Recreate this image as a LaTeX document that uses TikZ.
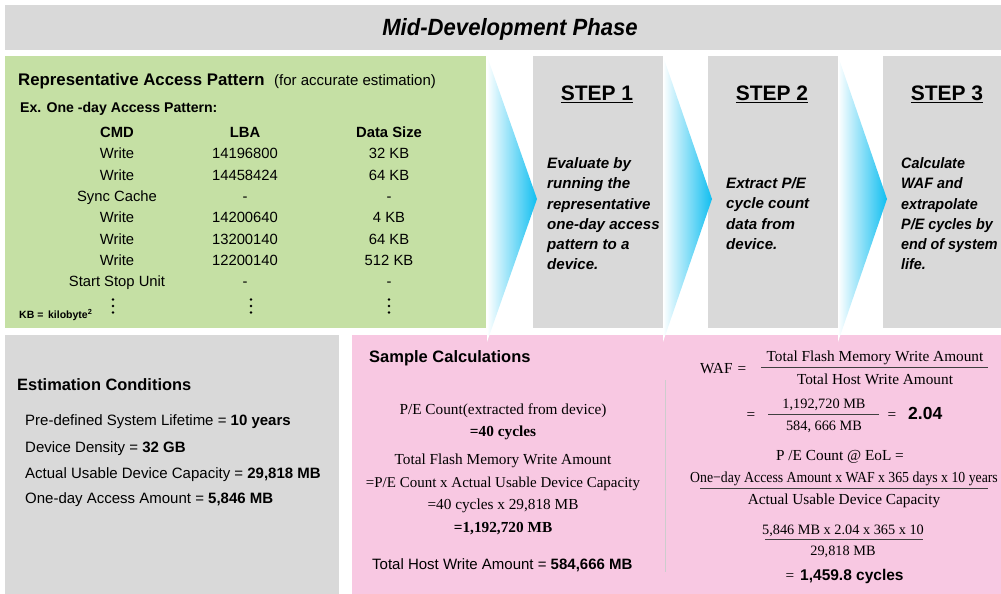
\documentclass[tikz,border=0pt]{standalone}
\usepackage{fontspec}
\setmainfont{Liberation Sans}
\newfontfamily\serf{Liberation Serif}
\definecolor{boxgrey}{HTML}{D9D9D9}
\definecolor{boxgreen}{RGB}{197,224,164}
\definecolor{boxpink}{RGB}{248,200,226}
\definecolor{arrowcyan}{RGB}{16,190,240}
\definecolor{divgrey}{RGB}{205,205,205}
\newcommand\fsz[1]{\fontsize{#1}{#1}\selectfont}
\newcommand\narrow[1]{\scalebox{0.95}[1]{#1}}
\begin{document}
\begin{tikzpicture}[x=1pt,y=-1pt,
  txt/.style={inner sep=0pt, anchor=mid, yshift=-3.2pt},
  ltxt/.style={inner sep=0pt, anchor=mid west, yshift=-3.2pt},
  headtxt/.style={inner sep=0pt, anchor=mid west, yshift=-4pt},
  chev/.style={left color=white, right color=arrowcyan, draw=none},
  fracline/.style={draw=black!75, line width=0.8pt},
  tabtxt/.style={txt, font=\fsz{14.8}},
  tabhead/.style={txt, font=\bfseries\fsz{14.8}},
  stepbody/.style={inner sep=0pt, anchor=mid west, yshift=-4pt, font=\bfseries\itshape\fsz{15.1}},
  stephead/.style={inner sep=0pt, anchor=mid, yshift=-5pt, font=\bfseries\fsz{21}},
  sertxt/.style={txt, font=\serf\fsz{15.3}},
  sernum/.style={txt, font=\serf\fsz{14.3}},
  condtxt/.style={ltxt, font=\fsz{15}}]
\useasboundingbox (0,0) rectangle (1001,594);
% panels
\fill[boxgrey] (5,5) rectangle (1001,50);
\fill[boxgreen] (5,56) rectangle (486,328);
\fill[boxgrey] (533,56) rectangle (663,328);
\fill[boxgrey] (708,56) rectangle (838,328);
\fill[boxgrey] (883,56) rectangle (1001,328);
\fill[boxgrey] (5,335) rectangle (339,594);
\fill[boxpink] (352,335) rectangle (1001,594);
\draw[divgrey, line width=0.6pt] (665,380) -- (665,572);
% chevrons
\shade[chev] (487,56) -- (537,199) -- (487,342) -- cycle;
\shade[chev] (663,56) -- (712,199) -- (663,342) -- cycle;
\shade[chev] (838,56) -- (887,199) -- (838,342) -- cycle;
% title
\node[inner sep=0pt, anchor=mid, yshift=-6pt, font=\bfseries\itshape\fsz{23.5}] (title) at (510,27) {\scalebox{0.94}[1]{Mid-Development Phase}};
% green panel
\node[headtxt, font=\bfseries\fsz{16.8}] (rap) at (18,79) {Representative Access Pattern};
\node[headtxt, font=\fsz{15}] (rapnote) at (274,79) {(for accurate estimation)};
\node[ltxt, font=\bfseries\fsz{14.1}] (ex) at (20,107) {Ex. One -day Access Pattern:};
\node[tabhead] (hcmd) at (117,132) {CMD};
\node[tabhead] (hlba) at (245,132) {LBA};
\node[tabhead] (hsize) at (389,132) {Data Size};
\foreach \c/\l/\d/\y [count=\i] in {Write/14196800/32 KB/153, Write/14458424/64 KB/175, Sync Cache/-/-/196, Write/14200640/4 KB/217, Write/13200140/64 KB/239, Write/12200140/512 KB/260, Start Stop Unit/-/-/281}
{
  \node[tabtxt] (cmd\i) at (117,\y) {\c};
  \node[tabtxt] (lba\i) at (245,\y) {\l};
  \node[tabtxt] (size\i) at (389,\y) {\d};
}
\foreach \x in {113,251,389}
  \foreach \dy in {-6.5,0,6.5}
    \fill ({\x},{306+\dy}) circle (1.4pt);
\node[ltxt, font=\bfseries\fsz{10.5}] (kb) at (19,313) {KB =\, kilobyte\textsuperscript{2}};
% steps
\node[stephead] (st1) at (597,93) {\underline{STEP 1}};
\node[stephead] (st2) at (772,93) {\underline{STEP 2}};
\node[stephead] (st3) at (947,93) {\underline{STEP 3}};
\foreach \l [count=\i] in {Evaluate by, running the, representative, one-day access, pattern to a, device.}
  \node[stepbody] (s1l\i) at (547,{162+20.2*(\i-1)}) {\l};
\foreach \l [count=\i] in {{Extract P/E}, cycle count, data from, device.}
  \node[stepbody] (s2l\i) at (726,{182+20.2*(\i-1)}) {\l};
\foreach \l [count=\i] in {Calculate, WAF and, extrapolate, {P/E cycles by}, end of system, life.}
  \node[stepbody] (s3l\i) at (901,{162+20.2*(\i-1)}) {\narrow{\l}};
% estimation conditions
\node[headtxt, font=\bfseries\fsz{16.4}] (ec) at (17,384) {Estimation Conditions};
\node[condtxt] (ec1) at (25,420) {Pre-defined System Lifetime = \textbf{10 years}};
\node[condtxt] (ec2) at (25,447) {Device Density = \textbf{32 GB}};
\node[condtxt] (ec3) at (25,473) {Actual Usable Device Capacity = \textbf{29,818 MB}};
\node[condtxt] (ec4) at (25,498) {One-day Access Amount = \textbf{5,846 MB}};
% sample calculations (left)
\node[headtxt, font=\bfseries\fsz{16.5}] (sc) at (369,356) {Sample Calculations};
\node[sertxt] (pe1) at (503,409) {P/E Count(extracted from device)};
\node[sertxt, font=\serf\bfseries\fsz{15.3}] (pe2) at (503,431) {=40 cycles};
\node[sertxt] (tf1) at (503,459) {Total Flash Memory Write Amount};
\node[sertxt, font=\serf\fsz{15}] (tf2) at (503,482) {=P/E Count x Actual Usable Device Capacity};
\node[sertxt] (tf3) at (503,504) {=40 cycles x 29,818 MB};
\node[sertxt, font=\serf\bfseries\fsz{15.3}] (tf4) at (503,527) {=1,192,720 MB};
\node[ltxt, font=\fsz{15}] (thw) at (372,564) {Total Host Write Amount = \textbf{584,666 MB}};
% sample calculations (right)
\node[ltxt, font=\serf\fsz{15.3}] (waf) at (700,368) {WAF};
\node[sertxt] (eq1) at (742,368) {=};
\node[sertxt] (wafn) at (875,356) {Total Flash Memory Write Amount};
\node[sertxt] (wafd) at (875,379) {Total Host Write Amount};
\coordinate (w1a) at (761,367); \coordinate (w1b) at (988,367);
\draw[fracline] (w1a) -- (w1b);
\node[sertxt] (eq2) at (751,414) {=};
\node[sernum] (w2n) at (824,403) {1,192,720 MB};
\node[sernum] (w2d) at (824,425) {584, 666 MB};
\coordinate (w2a) at (768,414); \coordinate (w2b) at (879,414);
\draw[fracline] (w2a) -- (w2b);
\node[sertxt] (eq3) at (892,414) {=};
\node[ltxt, font=\bfseries\fsz{17.5}] (wafv) at (908,414) {2.04};
\node[sertxt] (eol) at (840,455) {P /E Count @ EoL =};
\node[sertxt] (eoln) at (844,477) {\scalebox{0.9}[1]{One−day Access Amount x WAF x 365 days x 10 years}};
\node[sertxt] (eold) at (844,499) {Actual Usable Device Capacity};
\coordinate (e1a) at (700,488); \coordinate (e1b) at (988,488);
\draw[fracline] (e1a) -- (e1b);
\node[sernum] (e2n) at (843,529) {5,846 MB x 2.04 x 365 x 10};
\node[sernum] (e2d) at (843,550) {29,818 MB};
\coordinate (e2a) at (765,539); \coordinate (e2b) at (923,539);
\draw[fracline] (e2a) -- (e2b);
\node[sertxt] (eq4) at (790,575) {=};
\node[ltxt, font=\bfseries\fsz{15.5}] (res) at (800,575) {1,459.8 cycles};
\end{tikzpicture}
\end{document}
